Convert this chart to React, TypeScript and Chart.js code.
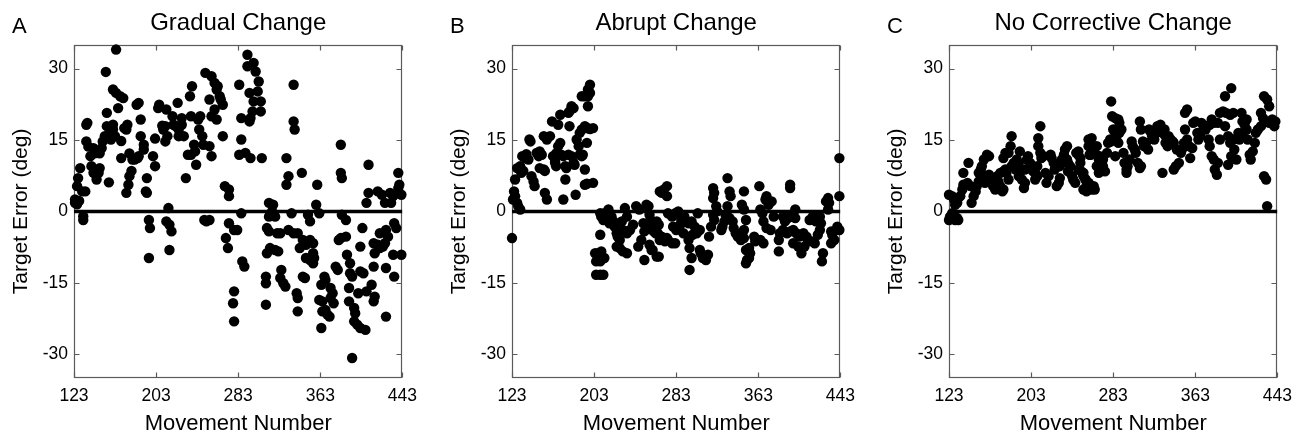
import React, { useEffect, useRef } from 'react';
import { Chart, registerables } from 'chart.js';

Chart.register(...registerables);

const FONT = '"Liberation Sans", Arial, Helvetica, sans-serif';

const xTicks = [123, 203, 283, 363, 443];
const yTicks = [-30, -15, 0, 15, 30];
const panelTitles = ['Gradual Change', 'Abrupt Change', 'No Corrective Change'];
const panelLetters = ['A', 'B', 'C'];
const xAxisTitle = 'Movement Number';
const yAxisTitle = 'Target Error (deg)';
const zeroLine = [0, 0];

// [movement number, target error (deg)]
const gradualPoints: [number, number][] = [
  [124,2.5],[124,1.8],[126,5.3],[126,1.5],[127,7],[128,2.2],[129,9.1],[131,4.2],[132,-1],[132,-1.8],[134,4.2],[135,18.2],[136,18.6],[135,14.7],[137,13.6],[139,11.6],[140,9.5],[142,8.1],[143,8.5],[142,13.3],[143,12.2],[145,6.7],[147,8.1],[148,9.1],[148,12.2],[150,13.3],[151,14.7],[153,15.8],[155,17.9],[155,20.7],[154,29.3],[157,6.1],[159,15.1],[158,16.5],[161,17.2],[163,15.8],[161,18.2],[161,25.6],[164,24.9],[168,24.2],[171,23.8],[164,34],[166,21.7],[169,14.8],[169,11.2],[172,17.5],[174,17.2],[175,18.2],[174,3.9],[176,5.6],[177,7.4],[179,8.5],[177,12.2],[180,10.9],[182,10.9],[185,11.2],[186,11.6],[184,22.4],[186,22.8],[188,15.8],[188,19.3],[191,13],[191,14],[193,4.2],[194,3.9],[194,7],[196,-1.8],[197,-3.5],[196,-9.8],[200,11.6],[202,9.5],[202,15.3],[205,21.7],[206,22.4],[209,18],[210,17.2],[212,17.9],[213,21.4],[214,15.8],[212,14.7],[215,0.7],[213,-2.1],[216,-2.8],[218,-4.2],[216,-8.1],[219,20],[220,18.2],[222,17.9],[224,22.8],[225,17.2],[225,15.8],[228,19.6],[228,18.2],[230,15.8],[232,7],[234,11.9],[236,24.2],[237,20],[238,26.3],[237,11.9],[240,14],[241,12.6],[242,9.8],[244,19.3],[245,17.2],[246,20],[248,15.8],[249,14],[251,29.1],[250,-1.8],[252,-2.1],
  [257,28.4],[260,27],[262,25.6],[263,26.3],[265,24.2],[266,23.5],[268,22.4],[255,23.5],[257,20],[260,21.4],[262,19.3],[255,13.7],[257,11.6],[255,-1.8],[268,15.8],[270,5.3],[274,4.6],[274,3.2],[274,-2.5],[279,-3.9],[282,-3.9],[271,-5.6],[273,-7.7],[284,26.6],[286,19.6],[286,15.1],[284,11.9],[286,-0.4],[287,-10.5],[289,-11.6],[279,-16.8],[278,-19.3],[279,-23.1],[292,32.9],[292,30.5],[298,31.2],[300,29.4],[303,27.3],[302,25.2],[294,24.9],[298,23.1],[305,23.1],[297,21],[305,21],[294,18.9],[295,19.6],[290,12.3],[295,11.2],[306,11.2],[313,1.8],[317,1.4],[316,0],[319,-1.1],[313,-1.1],[311,-3.5],[313,-4.2],[321,-4.6],[324,-4.6],[314,-7.7],[319,-8.1],[322,-8.4],[311,-8.8],[310,-13.7],[310,-15.1],[310,-19.6],[325,-12.3],[324,-14],[327,-15.1],[329,-15.8],[330,11.2],[332,7.4],[330,5.6],[335,-0.4],[332,-3.9],[337,-4.6],[341,-4.6],[343,-7.7],[346,-6],[349,-7],[345,8.1],[337,26.6],[337,18.9],[338,17.2],[346,-13.7],[348,-14],[340,-17.2],[341,-18.2],[341,-21],[351,-0.7],[353,-2.1],[353,-6],[356,-6.7],[356,-8.8],[349,-9.8],[353,-10.2],[357,-9.8],[356,-10.9],[360,5.6],[359,1.4],[362,-0.4],[364,-15.4],[362,-18.6],[365,-18.9],[364,-24.5],[365,-21],[368,-20.7],[370,-21.7],[372,-22.1],[367,-13.7],[368,-14.4],[373,-16.1],[375,-17.2],[373,-18.2],[376,-19.3],[378,-11.6],[380,-12.3],[381,-6],[383,-5.6],[384,-0.7],[383,14],[383,8.1],[384,7],[388,-5.3],[388,-1.8],[389,-9.1],[392,-10.9],[392,-13],[394,-13.7],[391,-16.1],[391,-18.9],[396,-20.3],[397,-21.4],[396,-23.1],[399,-23.8],[402,-24.5],[407,-24.9],[394,-30.8],[404,-3.5],[402,-7.4],[402,-12.6],[405,-13],[400,-17.2],[408,-16.8],[413,-15.4],[410,9.8],[410,3.9],[408,1.8],[415,-6.7],[419,-7],[416,-8.8],[421,-7.7],[424,-7.4],[426,-6.7],[429,-5.3],[427,-3.9],[421,-4.6],[415,-11.6],[416,-17.9],[415,-18.9],[419,4.2],[423,3.5],[426,1.8],[431,3.9],[434,3.2],[432,1.8],[439,8.1],[440,5.6],[439,4.9],[435,-2.5],[437,-3.5],[434,-9.1],[442,-9.1],[427,-11.9],[435,-13.7],[427,-22.1],[442,3.5]
];

const abruptPoints: [number, number][] = [
  [123,-5.6],[124,2.5],[125,4.2],[126,3.2],[128,1.8],[129,1.1],[131,0.4],[126,6.7],[128,9.1],[131,9.5],[132,8.1],[134,8.5],[133,11.6],[136,11.2],[137,12],[139,10.9],[140,15.1],[141,14.7],[142,7.4],[144,6.3],[145,5.3],[147,12.3],[149,11.6],[150,12.6],[152,11.9],[150,9.1],[154,8.8],[155,8.5],[154,15.8],[157,15.1],[155,3.9],[157,2.5],[160,15.8],[162,18.9],[163,11.6],[165,10.5],[166,12.2],[168,13.7],[165,10.2],[166,9.5],[168,18.2],[170,20.3],[170,14.4],[171,11.9],[173,11.6],[173,2.5],[175,6.7],[175,9.5],[176,9.1],[178,11.9],[178,20.7],[179,21],[181,22.1],[183,21.7],[179,17.9],[181,11.6],[183,10.2],[184,9.8],[185,3.5],[186,15.1],[188,13.7],[189,16.5],[191,17.2],[189,11.9],[191,11.6],[192,11.9],[194,8.8],[194,5.6],[194,17.9],[196,14.4],[197,17.5],[191,24.2],[194,24.2],[197,24.2],[199,26.6],[197,25.6],[199,24.9],[197,22.1],[196,17.5],[199,17.3],[202,17.5],[196,5.8],[202,6],
  [209,-0.4],[210,-1.1],[212,-1.8],[213,-0.4],[215,-1.1],[217,0.4],[218,-2.5],[209,-4.9],[204,-8.8],[207,-8.8],[210,-8.4],[212,-9.8],[213,-9.8],[205,-10.5],[209,-10.5],[205,-13.3],[209,-13.3],[212,-13.3],[220,-1.1],[222,-2.1],[223,-3.2],[225,-4.6],[226,-5.3],[228,-6],[225,-7.4],[228,-7.7],[231,-8.4],[235,-8.8],[230,-2.1],[233,0.7],[235,-1.1],[231,-3.9],[235,-4.6],[238,-3.9],[241,-2.8],[244,1.1],[247,0.4],[251,-2.5],[252,-4.2],[249,-6],[246,-7.4],[252,-10.2],[254,1.4],[257,-0.7],[260,-2.5],[264,-3.2],[265,-4.6],[257,-7],[260,-8.1],[264,-9.5],[267,4.2],
  [256,1.1],[258,-1.8],[259,-3.2],[261,-4.2],[263,-4.6],[264,-2.1],[266,-2.8],[267,-6],[269,-5.3],[272,-6.3],[274,-5.6],[259,-8.1],[266,-9.5],[269,3.9],[271,4.6],[274,5.3],[274,3.2],[275,-0.4],[279,-1.1],[282,-0.4],[285,0],[275,-6],[279,-6.7],[282,-6.7],[280,-3.2],[283,-3.9],[287,-2.8],[288,-1.8],[291,-1.1],[295,-2.5],[298,-2.1],[301,-3.2],[304,-0.4],[290,-4.6],[295,-6],[296,-5.3],[299,-4.9],[303,-4.6],[306,-3.9],[296,-7.7],[298,-9.8],[296,-12.3],[306,-8.1],[307,-8.8],[309,-9.8],[312,-10.2],[314,-9.1],[315,-5.3],[317,-3.2],[320,-1.8],[319,-0.7],[322,1.1],[323,0],[319,2.8],[319,4.9],[320,3.9],[327,-3.9],[328,-3.2],[330,-2.1],[333,7],[335,4.2],[336,3.2],[333,1.1],[331,-0.7],[335,-1.4],[338,-2.1],[339,-3.5],[341,-4.6],[343,-5.3],[346,-6],[349,-5.6],[349,4.2],[347,1.4],[349,0.4],[351,-1.8],[349,-3.9],[347,-4.6],[351,-8.1],[354,-7.7],[355,-8.8],[352,-10.2],[351,-10.9],[354,-9.8],[359,-5.3],[360,-6.3],[365,-6],[368,-6.7],[365,0.4],[367,-0.4],[370,2.5],[371,3.2],[373,1.4],[376,2.1],[378,-1.1],[368,-2.1],[371,-3.5],[375,-3.9],[364,5.3],[383,-6],[384,-4.6],[383,-8.4],[387,-1.1],[389,-2.1],[392,-1.4],[395,-1.1],[394,4.9],[394,5.6],[399,0.4],[399,-1.4],[387,-3.9],[391,-4.6],[394,-4.2],[397,-3.9],[400,-4.6],[403,-5.3],[407,-4.6],[410,-5.3],[397,-6.7],[402,-7.4],[405,-8.8],[408,-7.4],[411,-6],[415,-6.3],[418,-6.7],[413,-1.8],[416,-1.1],[419,-2.1],[423,-1.1],[424,-2.5],[423,-3.9],[421,-4.9],[426,-8.8],[425,-10.5],[429,2.1],[431,2.8],[432,1.8],[431,0.4],[434,-4.2],[435,-4.9],[434,-6.7],[437,-6],[440,-3.2],[442,-3.9],[442,3.2],[442,11.2]
];

const noCorrectivePoints: [number, number][] = [
  [123,-1.8],[124,-1.1],[126,-0.4],[128,-1.4],[129,-1.8],[131,-1.4],[132,-1.8],[123,3.5],[126,3.2],[128,2.5],[129,1.4],[131,1.8],[132,2.8],[134,3.2],[136,4.6],[137,5.6],[137,8.1],[142,10.2],[141,6],[144,5.3],[145,1.8],[147,3.2],[149,4.2],[150,5.3],[152,6.3],[154,8.8],[155,9.5],[157,10.9],[160,11.9],[162,11.6],[152,8.1],[155,6.7],[158,6],[160,7.4],[162,7.7],[163,6.7],[165,6],[166,5.3],[168,4.6],[170,5.3],[171,6.3],[173,5.3],[175,4.2],[176,4.6],[170,7.4],[173,8.1],[176,8.4],[178,8.8],[179,8.1],[181,6.7],[176,11.2],[178,12.3],[181,12.3],[183,13.7],[184,15.8],[184,9.5],[186,10.2],[188,8.8],[189,9.5],[191,7.4],[192,8.1],[189,10.9],[191,10.2],[192,12.6],[196,4.9],[194,6.7],[197,6],[197,8.8],[199,10.9],[200,11.6],[202,10.2],[204,9.5],[205,8.4],[207,8.1],[209,9.5],[207,6.7],[209,7.4],[210,15.4],[210,13.7],[212,17.9],[212,12.3],[213,11.2],[215,11.6],[217,8.1],[218,6],[220,7.4],[222,11.9],[223,11.2],[225,10.2],[226,8.8],[228,5.3],[230,6],[231,7],[231,9.5],[233,10.9],[235,11.9],[236,13],[238,13.7],[238,10.9],[239,10.2],[241,9.5],[239,8.4],[243,7.4],[244,6.7],[246,6],[247,12.3],[249,11.9],[251,11.2],[249,8.8],[252,8.4],[254,8.1],[256,6.7],[257,4.9],[259,6],[259,15.1],[260,13.7],[260,11.9],
  [249,12.6],[251,10.2],[253,8.1],[254,7.4],[256,6.7],[257,5.3],[259,6],[262,4.6],[264,5.3],[265,4.6],[254,4.6],[257,4.2],[261,15.1],[262,15.4],[259,13.7],[261,11.9],[264,13],[265,12.3],[267,13.7],[267,9.5],[269,10.9],[270,11.6],[272,10.2],[273,10.9],[269,8.1],[270,8.8],[273,9.5],[275,8.4],[277,12.3],[278,14.4],[280,15.1],[281,14.7],[281,23.1],[282,20],[285,19.6],[288,19.3],[289,18.6],[283,17.2],[285,16.5],[286,16.8],[289,16.5],[291,17.2],[286,15.1],[288,14.4],[285,11.6],[293,12.3],[294,10.2],[296,8.8],[297,9.5],[299,10.9],[296,8.1],[301,14.7],[302,13.7],[304,13],[305,12.3],[307,10.2],[309,9.1],[310,9.5],[309,18.9],[310,17.2],[312,14.7],[313,13.7],[315,14.4],[317,13],[318,17.2],[320,16.5],[321,15.8],[323,15.1],[325,16.5],[326,17.9],[329,18.2],[331,16.5],[333,17.2],[334,15.8],[336,15.1],[331,8.1],[334,14.4],[336,13.7],[337,15.8],[339,15.1],[341,14.7],[342,14.4],[345,13],[342,8.8],[344,9.5],[347,10.2],[349,12.3],[350,13],[352,14.4],[353,17.2],[353,20.7],[355,21.4],[355,15.1],[357,13.7],[358,11.2],[360,13.3],[361,18.6],[363,18.9],[365,16.5],[366,15.1],[368,15.8],[369,18.6],[371,17.9],[373,17.2],[376,15.1],[377,13.7],[379,11.6],[381,10.9],[377,18.2],[379,19.3],[381,18.6],[382,8.8],[384,7.7],[385,10.2],[387,15.1],[385,18.6],[387,20.7],[390,21],[393,20.7],[397,20.3],[400,20.7],[392,24.2],[398,25.9],[392,17.9],[395,15.8],[397,14.4],[400,15.1],[401,13],[403,10.9],[395,9.8],[398,11.6],[405,16.5],[406,15.1],[409,16.5],[411,18.2],[413,17.2],[408,20.7],[409,18.9],[413,19.3],[414,15.1],[416,11.9],[417,10.9],[419,12.6],[421,14.4],[422,16.5],[424,17.2],[427,17.9],[427,20.7],[429,19.6],[430,24.2],[433,23.5],[435,22.1],[430,7.4],[432,6.7],[433,1.1],[435,18.6],[438,19.3],[440,17.9],[441,18.9]
];

const panelPoints = [gradualPoints, abruptPoints, noCorrectivePoints];

const framePlugin = {
  id: 'frame',
  beforeDatasetsDraw(chart: any) {
    const { ctx, chartArea: a, scales } = chart;
    ctx.save();
    ctx.strokeStyle = '#5a5a5a';
    ctx.lineWidth = 1.2;
    const l = Math.round(a.left) + 0.5;
    const r = Math.round(a.right) - 0.5;
    const t = Math.round(a.top) + 0.5;
    const b = Math.round(a.bottom) - 0.5;
    ctx.strokeRect(l, t, r - l, b - t);
    const tl = 5;
    ctx.beginPath();
    for (const v of xTicks) {
      const x = Math.round(scales.x.getPixelForValue(v)) + 0.5;
      ctx.moveTo(x, b); ctx.lineTo(x, b - tl);
      ctx.moveTo(x, t); ctx.lineTo(x, t + tl);
    }
    for (const v of yTicks) {
      const y = Math.round(scales.y.getPixelForValue(v)) + 0.5;
      ctx.moveTo(l, y); ctx.lineTo(l + tl, y);
      ctx.moveTo(r, y); ctx.lineTo(r - tl, y);
    }
    ctx.stroke();
    ctx.restore();
  },
  afterDraw(chart: any, _args: any, opts: any) {
    const { ctx } = chart;
    ctx.save();
    ctx.fillStyle = '#000';
    ctx.font = `22px ${FONT}`;
    ctx.textAlign = 'left';
    ctx.textBaseline = 'alphabetic';
    ctx.fillText(opts.letter, 12, 33);
    ctx.restore();
  },
};

function makeConfig(i: number): any {
  return {
    type: 'scatter',
    data: {
      datasets: [
        {
          type: 'scatter',
          data: panelPoints[i].map(([x, y]) => ({ x, y })),
          pointRadius: 5.2,
          pointBackgroundColor: '#000',
          pointBorderWidth: 0,
          showLine: false,
          clip: false,
        },
        {
          type: 'line',
          data: [
            { x: xTicks[0], y: zeroLine[0] },
            { x: xTicks[xTicks.length - 1], y: zeroLine[1] },
          ],
          borderColor: '#000',
          borderWidth: 3.5,
          pointRadius: 0,
          fill: false,
        },
      ],
    },
    options: {
      animation: false,
      responsive: false,
      devicePixelRatio: 1,
      events: [],
      layout: { padding: { left: 0, right: 18, top: 0, bottom: 0 } },
      plugins: {
        legend: { display: false },
        tooltip: { enabled: false },
        title: {
          display: true,
          text: panelTitles[i],
          fullSize: false,
          color: '#000',
          font: { family: FONT, size: 24, weight: 'normal', lineHeight: 1.2 },
          padding: { top: 9, bottom: 7 },
        },
        frame: { letter: panelLetters[i] },
      },
      scales: {
        x: {
          type: 'linear',
          min: xTicks[0],
          max: xTicks[xTicks.length - 1],
          afterBuildTicks: (s: any) => { s.ticks = xTicks.map((v) => ({ value: v })); },
          afterFit: (s: any) => { s.height = 56; },
          grid: { display: false, drawTicks: false },
          border: { display: false },
          ticks: { color: '#000', font: { family: FONT, size: 17.5 }, padding: 8, maxRotation: 0, autoSkip: false, callback: (v: any) => String(v) },
          title: { display: true, text: xAxisTitle, color: '#000', font: { family: FONT, size: 22, lineHeight: 1 }, padding: { top: 0, bottom: -1 } },
        },
        y: {
          type: 'linear',
          min: -35,
          max: 35,
          afterBuildTicks: (s: any) => { s.ticks = yTicks.map((v) => ({ value: v })); },
          afterFit: (s: any) => { s.width = 74; },
          grid: { display: false, drawTicks: false },
          border: { display: false },
          ticks: { color: '#000', font: { family: FONT, size: 17.5 }, padding: 6, autoSkip: false, callback: (v: any) => String(v) },
          title: { display: true, text: yAxisTitle, color: '#000', font: { family: FONT, size: 21, lineHeight: 1 }, padding: { top: 11, bottom: 0 } },
        },
      },
    },
    plugins: [framePlugin],
  };
}

function Panel({ index, left }: { index: number; left: number }) {
  const ref = useRef<HTMLCanvasElement>(null);
  useEffect(() => {
    const chart = new Chart(ref.current as HTMLCanvasElement, makeConfig(index));
    return () => chart.destroy();
  }, [index]);
  return (
    <canvas
      ref={ref}
      width={425}
      height={434}
      style={{ position: 'absolute', left, top: 0, width: 425, height: 434 }}
    />
  );
}

const panelLefts = [0, 438, 875];

export default function App() {
  return (
    <div style={{ position: 'absolute', left: 0, top: 0, width: 1302, height: 434, overflow: 'hidden', background: '#fff' }}>
      {panelLefts.map((l, i) => (
        <Panel key={i} index={i} left={l} />
      ))}
    </div>
  );
}
